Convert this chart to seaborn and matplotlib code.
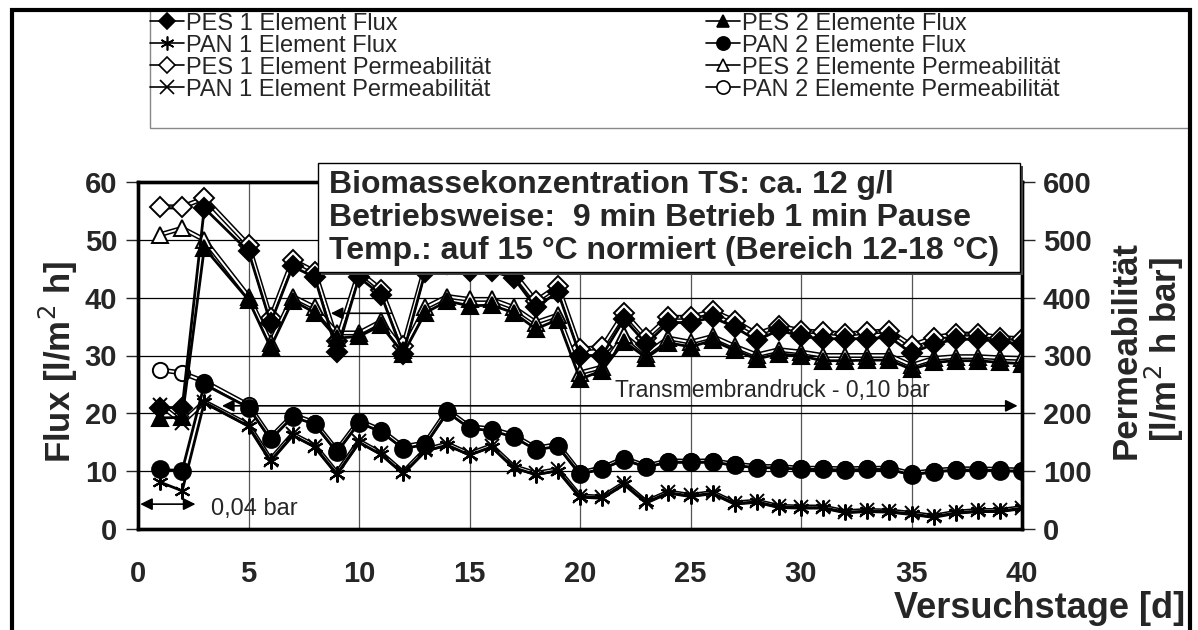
import matplotlib
matplotlib.use("Agg")
import matplotlib.pyplot as plt
from matplotlib.lines import Line2D
from matplotlib.patches import Rectangle
import seaborn as sns

# Versuchstage (Tag 4 fehlt)
days = [1, 2, 3] + list(range(5, 41))

# Flux [l/m2 h]
pes1_flux = [21.0, 21.0, 55.5, 48.0, 35.6, 45.4, 43.5, 30.6, 43.5, 40.5, 30.3, 44.5, 45.8,
             44.6, 44.6, 43.4, 38.3, 41.0, 30.0, 30.0, 36.3, 32.0, 35.7, 35.7, 36.6, 34.9,
             32.6, 34.4, 33.3, 32.9, 32.9, 32.9, 33.2, 30.4, 32.0, 32.8, 32.8, 32.4, 32.0]
pes2_flux = [19.2, 19.3, 48.6, 39.6, 31.4, 39.5, 37.4, 33.0, 33.3, 35.2, 30.3, 37.4, 39.4,
             38.6, 38.7, 37.4, 34.6, 36.2, 25.9, 27.4, 32.4, 29.6, 32.2, 31.5, 32.6, 30.9,
             29.4, 30.3, 29.9, 29.1, 29.1, 29.2, 29.2, 27.6, 28.8, 29.1, 29.1, 28.8, 28.6]
pan1_flux = [8.1, 6.6, 21.9, 17.8, 11.8, 16.2, 14.2, 9.5, 15.0, 12.9, 9.6, 13.5, 14.5,
             12.8, 14.2, 10.6, 9.4, 10.1, 5.6, 5.4, 7.8, 4.6, 6.3, 5.7, 6.2, 4.4,
             4.7, 3.8, 3.7, 3.7, 2.9, 3.1, 3.0, 2.6, 2.1, 2.8, 3.1, 3.1, 3.6]
pan2_flux = [10.3, 10.1, 25.0, 21.0, 15.5, 19.4, 18.1, 13.3, 18.4, 16.8, 13.9, 14.6, 20.2,
             17.4, 17.0, 15.9, 13.7, 14.3, 9.5, 10.4, 12.0, 10.7, 11.6, 11.5, 11.6, 11.0,
             10.6, 10.6, 10.3, 10.3, 10.2, 10.3, 10.3, 9.4, 9.9, 10.2, 10.2, 10.1, 10.0]

# Permeabilitaet [l/m2 h bar]
pes1_perm = [557, 557, 572, 491, 365, 465, 445, 325, 445, 414, 316, 454, 468,
             457, 454, 443, 394, 420, 311, 314, 374, 331, 366, 366, 377, 360,
             337, 351, 343, 340, 337, 340, 343, 317, 331, 337, 337, 331, 329]
pes2_perm = [509, 520, 500, 402, 322, 402, 383, 339, 339, 359, 310, 383, 402,
             397, 397, 383, 357, 370, 270, 280, 335, 303, 330, 323, 333, 316,
             301, 310, 306, 300, 300, 300, 300, 283, 295, 298, 298, 296, 295]
pan1_perm = [215, 184, 220, 180, 120, 164, 144, 97, 152, 131, 98, 137, 147,
             130, 144, 108, 96, 103, 57, 55, 79, 47, 64, 58, 63, 45,
             48, 39, 38, 38, 30, 32, 31, 27, 22, 29, 32, 32, 37]
pan2_perm = [275, 270, 255, 214, 158, 197, 184, 136, 187, 171, 142, 149, 205,
             177, 173, 162, 140, 146, 97, 106, 122, 109, 118, 117, 118, 112,
             108, 108, 105, 105, 104, 105, 105, 96, 101, 104, 104, 103, 102]

box_lines = ["Biomassekonzentration TS: ca. 12 g/l",
             "Betriebsweise:  9 min Betrieb 1 min Pause",
             "Temp.: auf 15 °C normiert (Bereich 12-18 °C)"]

sns.set_style("white")
plt.rcParams['font.family'] = ['Liberation Sans', 'DejaVu Sans']

W, H = 1198, 630
fig = plt.figure(figsize=(W / 100, H / 100), dpi=100)
ax = fig.add_axes([138 / W, 1 - 529 / H, (1022 - 138) / W, (529 - 182) / H])
ax2 = ax.twinx()
ax.set_zorder(ax2.get_zorder() + 1)
ax.patch.set_visible(False)

# Permeabilitaet (rechte Achse): weisse Linie mit schwarzem Rand
perm_style = [(pes1_perm, 'D', 10), (pes2_perm, '^', 11),
              (pan1_perm, 'x', 10.5), (pan2_perm, 'o', 11)]
for vals, mk, ms in perm_style:
    sns.lineplot(x=days, y=vals, ax=ax2, color='black', lw=3.6, errorbar=None, legend=False)
    sns.lineplot(x=days, y=vals, ax=ax2, color='white', lw=1.4, errorbar=None, legend=False,
                 marker=mk, markersize=ms, markerfacecolor='white',
                 markeredgecolor='black', markeredgewidth=1.4)

# Flux (linke Achse)
flux_style = [(pes1_flux, 'D', 10), (pes2_flux, '^', 11),
              (pan1_flux, (6, 2, 0), 11.5), (pan2_flux, 'o', 12)]
for vals, mk, ms in flux_style:
    sns.lineplot(x=days, y=vals, ax=ax, color='black', lw=2, errorbar=None, legend=False,
                 marker=mk, markersize=ms, markerfacecolor='black',
                 markeredgecolor='black', markeredgewidth=1.5)

ax.set_xlim(0, 40)
ax.set_ylim(0, 60)
ax2.set_ylim(0, 600)
ax.set_xticks(range(0, 41, 5))
ax.set_yticks(range(0, 61, 10))
ax2.set_yticks(range(0, 601, 100))

ax2.grid(True, axis='y', color='black', lw=0.9)
ax2.grid(False, axis='x')
for xv in range(5, 40, 5):
    ax2.axvline(xv, color='#555555', lw=0.9, zorder=0)

for a in (ax, ax2):
    for sp in a.spines.values():
        sp.set_linewidth(2.4)
        sp.set_color('black')
ax.tick_params(axis='x', direction='out', length=9, width=1, pad=13, labelsize=21)
ax.tick_params(axis='y', direction='out', length=9, width=1, pad=6, labelsize=21)
ax2.tick_params(axis='y', direction='out', length=9, width=1, pad=6, labelsize=21)
for lab in ax.get_xticklabels() + ax.get_yticklabels() + ax2.get_yticklabels():
    lab.set_fontweight('bold')
ax.set_xlabel('')
ax.set_ylabel('')
ax2.set_ylabel('')

# Pfeile und Beschriftungen
ax.annotate('', xy=(8.6, 37.3), xytext=(11.6, 37.3),
            arrowprops=dict(arrowstyle='-|>', color='black', lw=1.2, mutation_scale=18))
ax.annotate('', xy=(0.1, 4.3), xytext=(2.6, 4.3),
            arrowprops=dict(arrowstyle='<|-|>', color='black', lw=1.2, mutation_scale=18,
                            shrinkA=0, shrinkB=0))
ax.text(3.3, 3.4, '0,04 bar', fontsize=17, va='center', ha='left')
ax.annotate('', xy=(3.8, 21.3), xytext=(39.8, 21.3),
            arrowprops=dict(arrowstyle='<|-|>', color='black', lw=1.2, mutation_scale=18,
                            shrinkA=0, shrinkB=0))
ax.text(28.7, 23.9, 'Transmembrandruck - 0,10 bar', fontsize=16.5, va='center', ha='center')

# Achsentitel
fig.text(58 / W, 1 - 362 / H, 'Flux [l/m$^2$ h]', rotation=90, fontsize=25,
         fontweight='bold', ha='center', va='center')
fig.text(1148 / W, 1 - 350 / H, 'Permeabilität\n[l/m$^2$ h bar]', rotation=90, fontsize=25,
         fontweight='bold', ha='center', va='center', multialignment='center',
         linespacing=1.0)
fig.text(1185 / W, 1 - 609 / H, 'Versuchstage [d]', fontsize=26, fontweight='bold',
         ha='right', va='center')

# Textkasten
fig.patches.append(Rectangle((321 / W, 1 - 275 / H), (1020 - 318) / W, (272 - 163) / H,
                             transform=fig.transFigure, facecolor='#444444',
                             edgecolor='none', zorder=4))
fig.patches.append(Rectangle((318 / W, 1 - 272 / H), (1020 - 318) / W, (272 - 163) / H,
                             transform=fig.transFigure, facecolor='white',
                             edgecolor='black', lw=1, zorder=5))
for i, line in enumerate(box_lines):
    fig.text(329 / W, 1 - (185 + 33 * i) / H, line, fontsize=23, fontweight='bold',
             ha='left', va='center', zorder=6)

# Legende
handles = []
labels = []
legend_order = [('PES 1 Element Flux', 'D', 'black', 8),
                ('PAN 1 Element Flux', (6, 2, 0), 'black', 10),
                ('PES 1 Element Permeabilität', 'D', 'white', 8),
                ('PAN 1 Element Permeabilität', 'x', 'white', 10),
                ('PES 2 Elemente Flux', '^', 'black', 9),
                ('PAN 2 Elemente Flux', 'o', 'black', 9.5),
                ('PES 2 Elemente Permeabilität', '^', 'white', 9),
                ('PAN 2 Elemente Permeabilität', 'o', 'white', 9.5)]
for lab, mk, fc, ms in legend_order:
    handles.append(Line2D([], [], color='black', lw=1.2, marker=mk, markersize=ms,
                          markerfacecolor=fc, markeredgecolor='black', markeredgewidth=1.2))
    labels.append(lab)
fig.patches.append(Rectangle((150 / W, 1 - 128 / H), (1190 - 150) / W, (128 - 10) / H,
                             transform=fig.transFigure, facecolor='white',
                             edgecolor='#888888', lw=1, zorder=1))
fig.legend(handles, labels, loc='upper left', bbox_to_anchor=(146 / W, 1 - 9 / H),
           ncol=2, frameon=False, fontsize=17, labelspacing=0.0, handlelength=1.45,
           handletextpad=0.08, columnspacing=9.1, borderaxespad=0, borderpad=0.15)

# Rahmen um die ganze Grafik
fig.patches.append(Rectangle((12 / W, -0.05), (1190 - 12) / W, 1.05 - 10 / H,
                             transform=fig.transFigure, facecolor='none',
                             edgecolor='black', lw=3, zorder=10))

plt.savefig('out.png', dpi=100)
